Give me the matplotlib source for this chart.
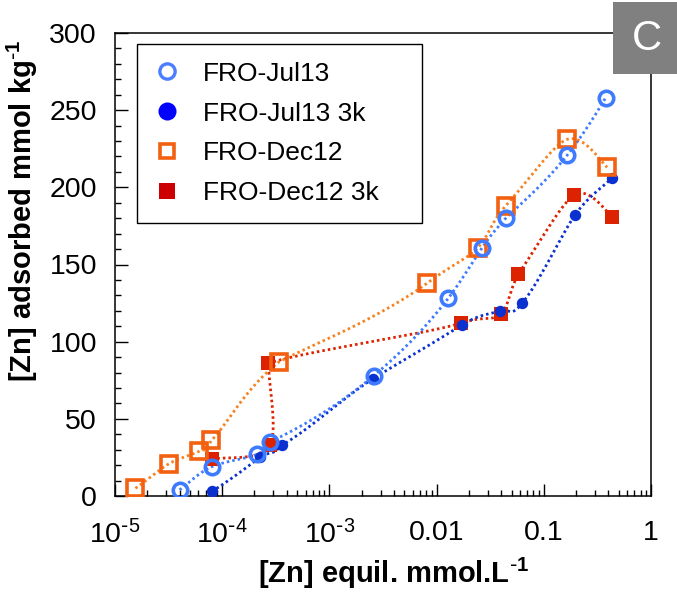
import numpy as np
import matplotlib.pyplot as plt
from matplotlib.lines import Line2D
from matplotlib.patches import Rectangle

plt.rcParams['font.family'] = ['Liberation Sans', 'DejaVu Sans']
plt.rcParams['mathtext.default'] = 'regular'
plt.rcParams['axes.unicode_minus'] = False

# data ([Zn] equil. mmol/L, [Zn] adsorbed mmol/kg)
jul13_x = [4.0e-5, 8.0e-5, 2.1e-4, 2.8e-4, 2.6e-3, 0.0128, 0.0267, 0.044, 0.166, 0.377]
jul13_y = [4, 19, 27, 35, 78, 128, 161, 180, 221, 258]

jul13_3k_x = [8.0e-5, 2.25e-4, 3.6e-4, 2.55e-3, 0.0174, 0.0393, 0.0628, 0.195, 0.434]
jul13_3k_y = [3, 25, 33, 76, 111, 120, 125, 182, 206]

dec12_x = [1.55e-5, 3.2e-5, 6.1e-5, 7.9e-5, 3.4e-4, 8.2e-3, 0.0243, 0.044, 0.164, 0.39]
dec12_y = [5, 21, 29, 36, 87, 138, 161, 188, 231, 213]

dec12_3k_x = [8.0e-5, 2.8e-4, 2.7e-4, 0.0168, 0.0395, 0.058, 0.192, 0.434]
dec12_3k_y = [24, 33, 86, 112, 118, 144, 195, 181]

labels = ['FRO-Jul13', 'FRO-Jul13 3k', 'FRO-Dec12', 'FRO-Dec12 3k']
x_ticks = [1e-5, 1e-4, 1e-3, 1e-2, 1e-1, 1]
x_ticklabels = [r'$10^{\text{-}5}$', r'$10^{\text{-}4}$', r'$10^{\text{-}3}$', '0.01', '0.1', '1']


def smooth(xs, ys, n=60, power=0.3):
    # smoothed connecting line through the points (bezier / catmull-rom style)
    u = np.asarray(xs, dtype=float) ** power
    v = np.asarray(ys, dtype=float)
    pts = np.column_stack([u, v])
    p = np.vstack([pts[0], pts, pts[-1]])
    t = np.linspace(0, 1, n)[:, None]
    segs = []
    for i in range(1, len(p) - 2):
        p0, p1, p2, p3 = p[i - 1], p[i], p[i + 1], p[i + 2]
        c1 = p1 + (p2 - p0) / 6
        c2 = p2 - (p3 - p1) / 6
        dx = p2[0] - p1[0]
        if dx > 0:
            c1[0] = min(max(c1[0], p1[0]), p1[0] + 0.6 * dx)
            c2[0] = max(min(c2[0], p2[0]), p1[0] + 0.4 * dx)
        else:
            c1[0] = max(c1[0], p2[0])
            c2[0] = max(c2[0], p2[0])
        segs.append((1 - t) ** 3 * p1 + 3 * (1 - t) ** 2 * t * c1
                    + 3 * (1 - t) * t ** 2 * c2 + t ** 3 * p2)
    c = np.vstack(segs)
    return c[:, 0] ** (1 / power), c[:, 1]


fig = plt.figure(figsize=(6.77, 6.04), dpi=100)
ax = fig.add_axes([115 / 677, 108 / 604, 536 / 677, 463 / 604])

dots = (0, (0.9, 1.1))
series = [
    (dec12_3k_x, dec12_3k_y, '#DD2200', '#DD2200', 's', 10.3, 0, True),
    (jul13_3k_x, jul13_3k_y, '#0A30D0', '#0A30D0', 'o', 8.2, 0, True),
    (dec12_x, dec12_y, '#F26010', '#F7811F', 's', 11.3, 2.6, False),
    (jul13_x, jul13_y, '#3F7BFF', '#3F7BFF', 'o', 10.4, 2.6, False),
]
for xs, ys, mcol, lcol, mk, ms, mew, filled in series:
    sx, sy = smooth(xs, ys)
    ax.plot(sx, sy, color=lcol, lw=2.0, linestyle=dots, zorder=2)
for xs, ys, mcol, lcol, mk, ms, mew, filled in series:
    if filled:
        ax.plot(xs, ys, linestyle='none', marker=mk, ms=ms, color=mcol,
                markeredgewidth=0, zorder=3)
    else:
        ax.plot(xs, ys, linestyle='none', marker=mk, ms=ms, markerfacecolor='none',
                markeredgecolor=mcol, markeredgewidth=mew, zorder=4)

ax.set_xscale('log')
ax.set_xlim(1e-5, 1)
ax.set_ylim(0, 300)
ax.set_xticks(x_ticks)
ax.set_xticklabels(x_ticklabels)
ax.set_xticks([m * d for d in x_ticks[:-1] for m in range(2, 10)], minor=True)
ax.set_yticks(np.arange(0, 301, 50))
ax.set_yticks(np.arange(0, 301, 10), minor=True)

ax.tick_params(which='both', direction='in', top=False, right=False, width=1.0, color='black')
ax.tick_params(which='major', length=9, labelsize=20.5)
ax.tick_params(which='minor', length=4.5)
ax.tick_params(axis='x', which='major', pad=17)
ax.tick_params(axis='y', which='major', pad=13)
for s in ax.spines.values():
    s.set_linewidth(1.1)

fig.text(394 / 677, 1 - 573 / 604, r'[Zn] equil. mmol.L$^{\text{-}1}$', ha='center', va='center',
         fontsize=21, fontweight='bold')
fig.text(22 / 677, 1 - 211 / 604, r'[Zn] adsorbed mmol kg$^{\text{-}1}$', ha='center', va='center',
         rotation=90, fontsize=21, fontweight='bold')

handles = [
    Line2D([], [], linestyle='none', marker='o', ms=11, markerfacecolor='none',
           markeredgecolor='#4A7DFF', markeredgewidth=2.4),
    Line2D([], [], linestyle='none', marker='o', ms=13, color='#0000FF', markeredgewidth=0),
    Line2D([], [], linestyle='none', marker='s', ms=10.6, markerfacecolor='none',
           markeredgecolor='#F26010', markeredgewidth=2.6),
    Line2D([], [], linestyle='none', marker='s', ms=12.2, color='#CC0000', markeredgewidth=0),
]
leg = ax.legend(handles, labels, loc='upper left',
                bbox_to_anchor=(21.7 / 536, 0, 285 / 536, 451.7 / 463), mode='expand',
                borderaxespad=0, fontsize=19, frameon=True, fancybox=False,
                edgecolor='black', framealpha=1, handlelength=1.0, handletextpad=0.85,
                labelspacing=0.6, borderpad=0.66)
leg.get_frame().set_linewidth(1.0)

fig.add_artist(Rectangle((613.3 / 677, 1 - 74 / 604), 64 / 677, 72.3 / 604,
                         transform=fig.transFigure, facecolor='#808080', edgecolor='none',
                         zorder=10))
fig.text(646.7 / 677, 1 - 39 / 604, 'C', ha='center', va='center', color='white',
         fontsize=30, zorder=11)

fig.savefig('out.png', dpi=100)
